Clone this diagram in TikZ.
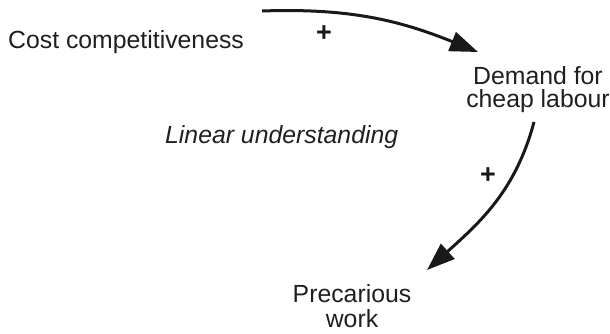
\documentclass[tikz,border=0pt]{standalone}
\usepackage{fontspec}
\setmainfont{Liberation Sans}
\usetikzlibrary{arrows.meta}
\begin{document}
\begin{tikzpicture}[x=1pt,y=1pt,
  lbl/.style={inner sep=0pt, text=black!88, font=\fontsize{24.8}{23}\selectfont},
  plus/.style={inner sep=0pt, text=black!90, font=\fontsize{27}{27}\selectfont\bfseries},
  link/.style={line width=3pt, black!90, -{Triangle[length=28pt,width=20pt]}}]
\useasboundingbox (0,0) rectangle (610,-333);
\node[lbl, anchor=base west] (cost) at (8,-48) {Cost competitiveness};
\node[lbl, anchor=base, align=center] (demand) at (538,-107) {Demand for\\cheap labour};
\node[lbl, anchor=base west, font=\fontsize{24.8}{23}\selectfont\itshape] (linear) at (165,-143) {Linear understanding};
\node[lbl, anchor=base, align=center, font=\fontsize{24.8}{25}\selectfont] (prec) at (352,-327) {Precarious\\work};
\node[plus] (p1) at (324,-34) {+};
\node[plus] (p2) at (488,-176) {+};
\coordinate (a1s) at (262,-11);
\coordinate (a1e) at (478,-52);
\coordinate (a2s) at (534,-122);
\coordinate (a2e) at (427,-270);
\draw[link] (a1s) to[out=2,in=158] (a1e);
\draw[link] (a2s) to[out=-105,in=42] (a2e);
\end{tikzpicture}
\end{document}
